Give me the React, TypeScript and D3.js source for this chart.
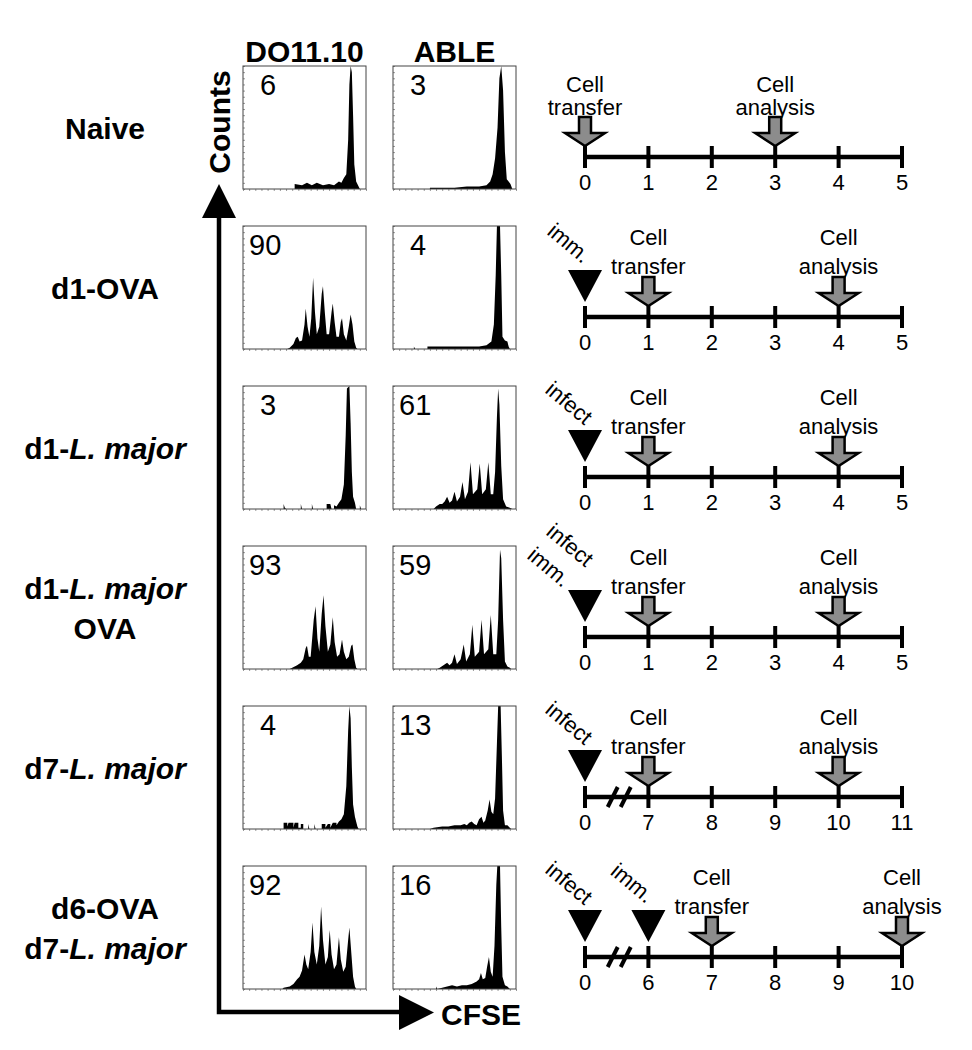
import React, { useEffect, useRef } from 'react';
import * as d3 from 'd3';

const W = 972;
const H = 1050;

// row labels, text between * is italic
const rowLabels = [
    ["Naive"],
    ["d1-OVA"],
    ["d1-*L. major*"],
    ["d1-*L. major*", "OVA"],
    ["d7-*L. major*"],
    ["d6-OVA", "d7-*L. major*"]
];
const columnHeaders = ["DO11.10", "ABLE"];
const doPercent = [6, 90, 3, 93, 4, 92];
const ablePercent = [3, 4, 61, 59, 13, 16];

// histogram outlines, [CFSE (0-100), counts (0-100)]
const doHist = [
    [[0,0],[42,0],[42,4],[48,3],[52,5],[56,3],[60,5],[65,3],[70,4],[74,3],[78,6],[80,5],[82,9],[84,12],[85.5,40],[86.5,85],[87.5,100],[88.5,95],[89.5,60],[90.5,20],[92,6],[94,2],[95,0],[100,0]],
    [[0,0],[36,0],[38,1],[41,4],[43,9],[44.5,10],[46,6],[48,7],[50,20],[51,33],[52.5,18],[54,10],[55.5,25],[57,58],[58.5,30],[60,12],[62,18],[64,45],[65,51],[66.5,30],[68,12],[70,12],[72,30],[73,37],[74.5,22],[76,10],[78,10],[79.5,22],[80.5,25],[82,12],[84,7],[86,18],[87.5,28],[89,20],[90.5,6],[92,1],[93,0],[100,0]],
    [[0,0],[33,0],[33,4],[34,1],[35,0],[47,0],[47,4],[48,0],[56,0],[56,4],[57,0],[68,0],[68,4],[71,4],[72,0],[74,0],[74,3],[76,2],[78,5],[80,8],[82,20],[83.5,60],[84.5,98],[86.5,100],[87.5,70],[88.5,30],[89.5,10],[91,5],[92,0],[95,0],[95,3],[96,0],[100,0]],
    [[0,0],[38,0],[40,1],[44,3],[47,5],[49,8],[51,17],[52,19],[53.5,10],[55,10],[57.5,40],[59,51],[60.5,25],[62,14],[64,45],[65.5,60],[67,35],[69,14],[71,20],[73,42],[74.5,22],[76.5,10],[78.5,12],[80.5,24],[82,14],[84,8],[86,10],[88,19],[89,20],[90.5,8],[92,1],[93,0],[100,0]],
    [[0,0],[33,0],[33,5],[36,5],[36,2],[37,5],[41,5],[41,1],[42,5],[45,5],[45,1],[47,1],[47,4],[49,4],[49,0],[53,0],[53,4],[54,0],[58,0],[58,4],[59,0],[64,0],[64,4],[67,4],[67,1],[69,4],[71,4],[71,1],[73,5],[76,5],[76,3],[78,6],[80,8],[82,12],[84,35],[85.5,80],[86.5,100],[87.5,90],[88.5,50],[89.5,20],[91,10],[93,2],[94,0],[100,0]],
    [[0,0],[32,0],[33,1],[38,2],[41,4],[44,8],[46,10],[48,15],[50,28],[51.5,20],[53,16],[55,30],[56.5,54],[58,30],[60,20],[62,35],[63.5,67],[65,40],[67,20],[69,26],[70.5,48],[72,28],[74,16],[76,20],[78,42],[79.5,24],[81.5,14],[83.5,18],[85.5,40],[86.5,50],[88,30],[89.5,10],[91,2],[92,0],[100,0]]
];
const ableHist = [
    [[0,0],[30,0],[30,1],[50,1],[60,2],[70,2],[76,3],[79,6],[81,12],[83,25],[85,50],[86.5,90],[88,100],[89.5,80],[91,30],[92.5,8],[94,6],[95.5,4],[97,0],[100,0]],
    [[0,0],[17,0],[17,2],[18,0],[28,0],[28,2],[40,2],[50,2],[60,2],[70,2],[76,3],[80,6],[82,20],[83.5,60],[84.5,100],[87,100],[88,60],[89,10],[91,7],[93,6],[94,2],[95,0],[100,0]],
    [[0,0],[33,0],[35,2],[38,4],[40,4],[42,6],[44,10],[46,5],[48,7],[50,14],[52,6],[54.5,10],[56.5,22],[58.5,8],[61,14],[63,38],[65,12],[68.5,16],[70.5,37],[72.5,12],[75.5,16],[77.5,38],[79.5,12],[81.5,12],[83,30],[84.5,75],[85.5,98],[86.5,85],[88,35],[89.5,8],[92,2],[95,1],[97,0],[100,0]],
    [[0,0],[36,0],[38,1],[41,3],[44,5],[46,3],[48,5],[50,12],[52,4],[55,8],[57.5,20],[59.5,6],[62.5,12],[64.5,36],[66.5,10],[70,14],[72,40],[74,12],[77.5,16],[79.5,44],[81.5,12],[84,12],[85.5,40],[87,97],[88,90],[89.5,40],[91,6],[93,2],[95,1],[96,0],[100,0]],
    [[0,0],[30,0],[33,1],[40,2],[45,2],[50,3],[55,3],[58,4],[60,3],[62,5],[64,6],[66,4],[68,3],[70,8],[72,10],[73.5,5],[75,7],[77,15],[78.5,24],[80,14],[81.5,12],[83,25],[84.5,70],[85.5,100],[87.5,100],[88.5,60],[89.5,15],[91,3],[93,3],[95,1],[96,0],[100,0]],
    [[0,0],[35,0],[35,2],[36,0],[40,1],[44,2],[48,3],[52,2],[56,3],[60,3],[64,4],[66,5],[68,6],[70,8],[71.5,13],[73,8],[75,9],[76.5,18],[78,26],[79.5,14],[81,10],[82.5,35],[84,85],[84.8,100],[87,100],[88,50],[89,10],[91,3],[93,2],[95,0],[100,0]]
];

// timelines
const tlTicks = [
    ["0", "1", "2", "3", "4", "5"],
    ["0", "1", "2", "3", "4", "5"],
    ["0", "1", "2", "3", "4", "5"],
    ["0", "1", "2", "3", "4", "5"],
    ["0", "7", "8", "9", "10", "11"],
    ["0", "6", "7", "8", "9", "10"]
];
const tlBreak = [false, false, false, false, true, true];
const tlTransfer = [0, 1, 1, 1, 1, 2];
const tlAnalysis = [3, 4, 4, 4, 4, 5];
const tlTriangles = [
    [],
    [{ at: 0, labels: ["imm."] }],
    [{ at: 0, labels: ["infect"] }],
    [{ at: 0, labels: ["infect", "imm."] }],
    [{ at: 0, labels: ["infect"] }],
    [{ at: 0, labels: ["infect"] }, { at: 1, labels: ["imm."] }]
];

const App = () => {
    const svgRef = useRef<SVGSVGElement>(null);

    useEffect(() => {
        const svg = d3.select(svgRef.current);
        svg.selectAll("*").remove();
        svg.attr("font-family", "'Liberation Sans', Arial, Helvetica, sans-serif");

        svg.append("rect").attr("width", W).attr("height", H).attr("fill", "#fff");

        const boxW = 123, boxH = 123;
        const colX = [243, 393];
        const rowTop = (i: number) => 66 + i * 160;

        const x = d3.scaleLinear().domain([0, 100]).range([0, boxW]);
        const y = d3.scaleLinear().domain([0, 100]).range([boxH, 0]).clamp(true);
        const area = d3.area<number[]>()
            .x(d => x(d[0]))
            .y0(boxH)
            .y1(d => y(d[1]));

        //column headers
        columnHeaders.forEach((h, c) => {
            svg.append("text")
                .attr("x", colX[c] + boxW / 2)
                .attr("y", 62)
                .attr("text-anchor", "middle")
                .attr("font-size", 30)
                .attr("font-weight", "bold")
                .text(h);
        });

        //row labels
        rowLabels.forEach((lines, i) => {
            const cy = rowTop(i) + boxH / 2;
            const lh = 40;
            const first = cy + 11 - (lines.length - 1) * lh / 2;
            lines.forEach((line, k) => {
                const t = svg.append("text")
                    .attr("x", 105)
                    .attr("y", first + k * lh)
                    .attr("text-anchor", "middle")
                    .attr("font-size", 30)
                    .attr("font-weight", "bold");
                line.split("*").forEach((part, j) => {
                    if (!part) return;
                    t.append("tspan").attr("font-style", j % 2 ? "italic" : "normal").text(part);
                });
            });
        });

        //histograms
        const hists = [doHist, ableHist];
        const pcts = [doPercent, ablePercent];
        hists.forEach((col, c) => {
            col.forEach((pts, i) => {
                const g = svg.append("g")
                    .attr("transform", `translate(${colX[c]},${rowTop(i)})`);

                g.append("path")
                    .datum(pts)
                    .attr("fill", "#000")
                    .attr("d", area);

                //faint minor ticks
                g.append("g")
                    .call(d3.axisRight(y).ticks(20).tickSize(2).tickFormat(() => ""))
                    .call(a => a.select(".domain").remove())
                    .selectAll("line").attr("stroke", "#999");
                g.append("g")
                    .attr("transform", `translate(0,${boxH})`)
                    .call(d3.axisBottom(x).ticks(25).tickSize(2).tickFormat(() => ""))
                    .call(a => a.select(".domain").remove())
                    .selectAll("line").attr("stroke", "#999");

                g.append("rect")
                    .attr("width", boxW)
                    .attr("height", boxH)
                    .attr("fill", "none")
                    .attr("stroke", "#444")
                    .attr("stroke-width", 1);

                const p = pcts[c][i];
                g.append("text")
                    .attr("x", p >= 10 ? 6 : 17)
                    .attr("y", 29)
                    .attr("font-size", 29)
                    .text(p);
            });
        });

        //axes arrows
        svg.append("path")
            .attr("d", "M219,210 L219,1012 L405,1012")
            .attr("fill", "none")
            .attr("stroke", "#000")
            .attr("stroke-width", 4.5);
        svg.append("path").attr("d", "M202,218 L236,218 L219,184 Z").attr("fill", "#000");
        svg.append("path").attr("d", "M399,995 L399,1030 L434,1012.5 Z").attr("fill", "#000");

        svg.append("text")
            .attr("transform", "translate(230,122) rotate(-90)")
            .attr("text-anchor", "middle")
            .attr("font-size", 30)
            .attr("font-weight", "bold")
            .text("Counts");
        svg.append("text")
            .attr("x", 441)
            .attr("y", 1025)
            .attr("font-size", 30)
            .attr("font-weight", "bold")
            .text("CFSE");

        //timelines
        const tx = d3.scaleLinear().domain([0, 5]).range([585, 902]);
        const arrowPath = "M-6,-40 L6,-40 L6,-24 L20,-24 L0,-11 L-20,-24 L-6,-24 Z";

        tlTicks.forEach((ticks, i) => {
            const ay = 157 + i * 160;
            const g = svg.append("g").attr("transform", `translate(0,${ay})`);

            g.append("line")
                .attr("x1", tx(0)).attr("x2", tx(5))
                .attr("stroke", "#000").attr("stroke-width", 4.5);

            ticks.forEach((t, k) => {
                g.append("line")
                    .attr("x1", tx(k)).attr("x2", tx(k))
                    .attr("y1", -11).attr("y2", 11)
                    .attr("stroke", "#000").attr("stroke-width", 4);
                g.append("text")
                    .attr("x", tx(k))
                    .attr("y", 33)
                    .attr("text-anchor", "middle")
                    .attr("font-size", 22)
                    .text(t);
            });

            if (tlBreak[i]) {
                const mid = (tx(0) + tx(1)) / 2;
                [-4, 9].forEach(off => {
                    g.append("line")
                        .attr("x1", mid + off - 5).attr("y1", 10)
                        .attr("x2", mid + off + 5).attr("y2", -10)
                        .attr("stroke", "#000").attr("stroke-width", 4);
                });
            }

            //triangles with rotated labels
            tlTriangles[i].forEach(tr => {
                const cx = tx(tr.at);
                g.append("path")
                    .attr("transform", `translate(${cx},0)`)
                    .attr("d", "M-17,-47 L17,-47 L0,-15 Z")
                    .attr("fill", "#000");
                const pos = tr.labels.length === 1 ? [[-16, -74]] : [[-15, -92], [-36, -70]];
                tr.labels.forEach((lab, k) => {
                    g.append("text")
                        .attr("transform", `translate(${cx + pos[k][0]},${pos[k][1]}) rotate(40)`)
                        .attr("text-anchor", "middle")
                        .attr("dominant-baseline", "central")
                        .attr("font-size", 22)
                        .text(lab);
                });
            });

            //gray event arrows with labels
            const events = [[tlTransfer[i], "transfer"], [tlAnalysis[i], "analysis"]] as [number, string][];
            const l1 = i === 0 ? -65 : -72;
            const l2 = i === 0 ? -42 : -43;
            events.forEach(([k, word]) => {
                const cx = tx(k);
                g.append("text")
                    .attr("x", cx).attr("y", l1)
                    .attr("text-anchor", "middle")
                    .attr("font-size", 22)
                    .text("Cell");
                g.append("text")
                    .attr("x", cx).attr("y", l2)
                    .attr("text-anchor", "middle")
                    .attr("font-size", 22)
                    .text(word);
                g.append("path")
                    .attr("transform", `translate(${cx},0)`)
                    .attr("d", arrowPath)
                    .attr("fill", "#8c8c8c")
                    .attr("stroke", "#000")
                    .attr("stroke-width", 2.5);
            });
        });
    }, []);

    return (
        <svg
            ref={svgRef}
            width={W}
            height={H}
            style={{ position: 'absolute', left: 0, top: 0, display: 'block' }}
        ></svg>
    );
};

export default App;
